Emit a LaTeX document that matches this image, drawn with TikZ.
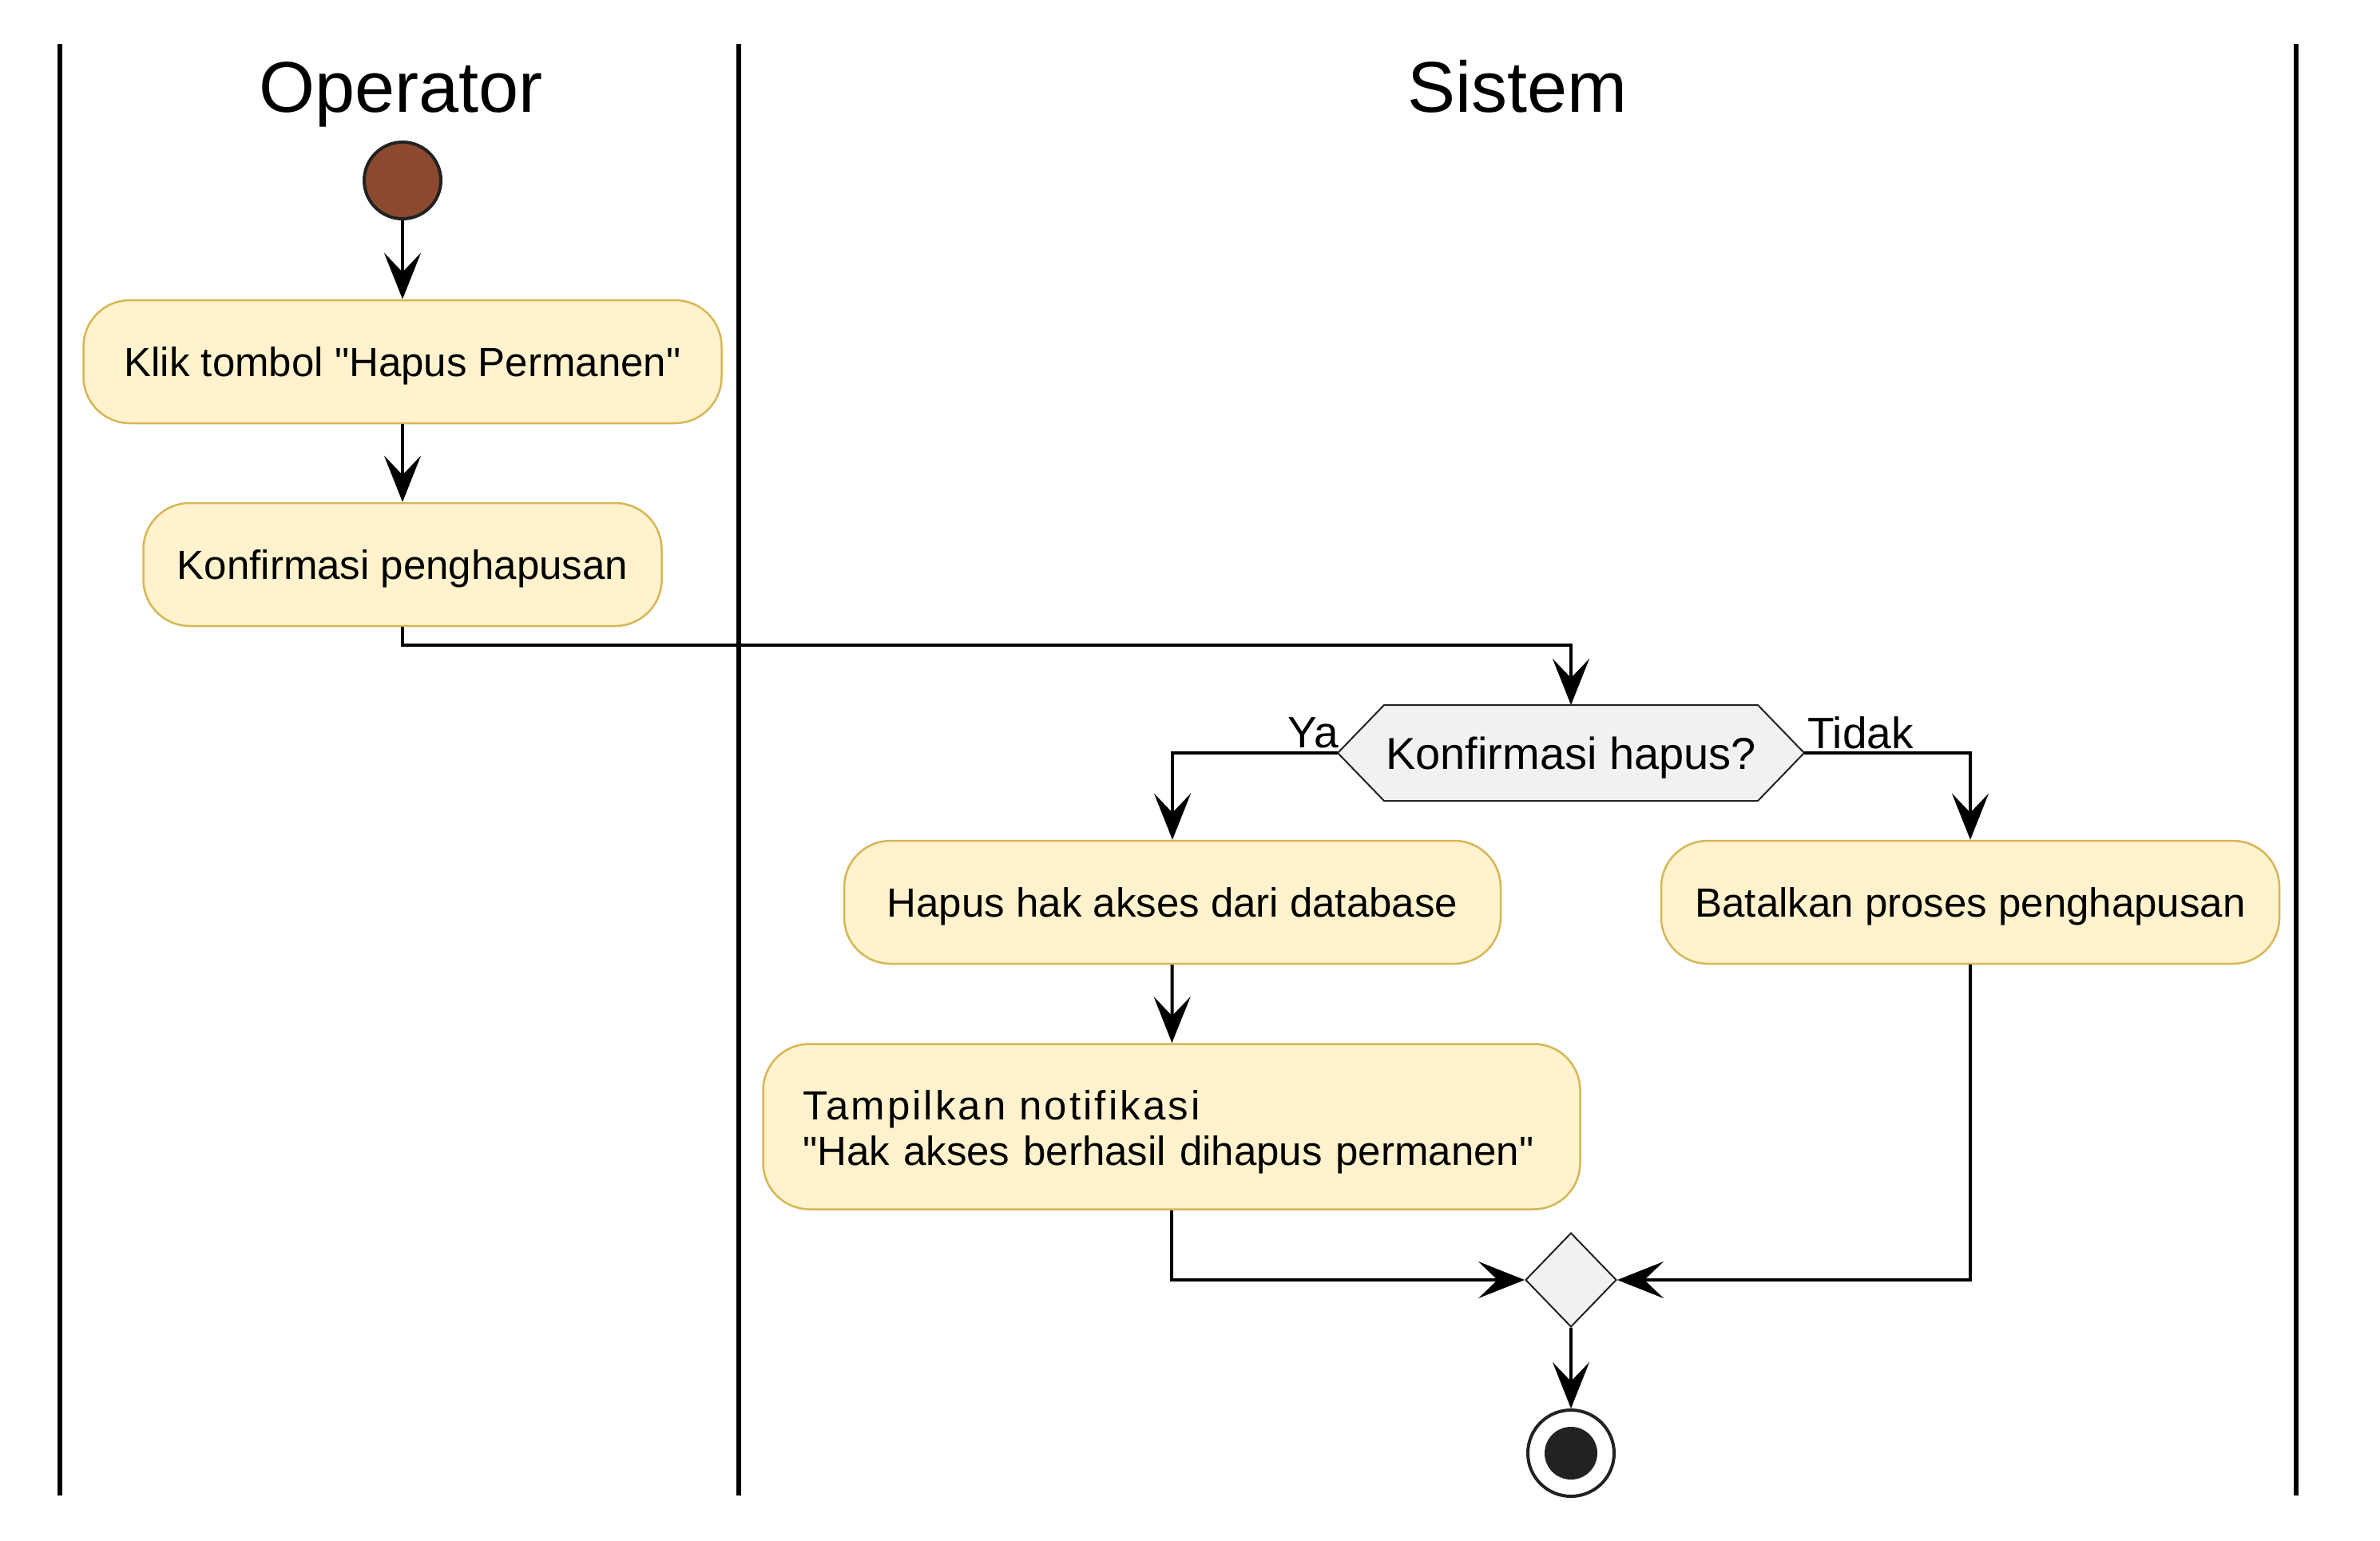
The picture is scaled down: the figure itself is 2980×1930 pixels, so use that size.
\documentclass[tikz,border=0pt]{standalone}
\usepackage{fontspec}
\setmainfont{Liberation Sans}[Ligatures=TeXOff]
\usetikzlibrary{arrows.meta,shapes.geometric,calc}
\definecolor{actfill}{HTML}{FFF2CC}
\definecolor{actdraw}{HTML}{D6B656}
\definecolor{decfill}{HTML}{F1F1F1}
\definecolor{startfill}{RGB}{139,74,47}
\definecolor{ink}{HTML}{222222}
\begin{document}
\begin{tikzpicture}[x=1pt,y=-1pt,
  act/.style={rectangle, rounded corners=58pt, fill=actfill, draw=actdraw, line width=2.5pt,
    minimum height=154pt, inner sep=0pt, text=black, text depth=0pt, font=\fontsize{51}{57}\selectfont},
  lane/.style={line width=6pt, black},
  title/.style={anchor=base, font=\fontsize{90}{100}\selectfont},
  flow/.style={line width=4pt, black, -{Stealth[length=58pt,width=46pt,inset=24pt]}},
  lbl/.style={font=\fontsize{55}{60}\selectfont, inner sep=0pt},
  decbox/.style={draw=ink, fill=decfill, line width=2pt, line join=miter},
]
\useasboundingbox (0,0) rectangle (2980,1930);
\fill[white] (0,0) rectangle (2980,1930);

% swimlanes
\draw[lane] (75,55) -- (75,1873);
\draw[lane] (925,55) -- (925,1873);
\draw[lane] (2875,55) -- (2875,1873);
\node[title] (tOp) at (502,140) {Operator};
\node[title] (tSys) at (1900,140) {Sistem};

% start
\node[circle, draw=ink, fill=startfill, line width=4pt, minimum size=96pt, inner sep=0pt] (start) at (504,226) {};

% actions (Operator)
\node[act, minimum width=799pt] (a1) at (504,453) {Klik tombol "Hapus Permanen"};
\node[act, minimum width=649pt] (a2) at (504,707) {Konfirmasi penghapusan};

% decision
\coordinate (dc) at (1967,943);
\draw[decbox] ($(dc)+(-292,0)$) -- ($(dc)+(-234,-60)$) -- ($(dc)+(234,-60)$) -- ($(dc)+(292,0)$)
  -- ($(dc)+(234,60)$) -- ($(dc)+(-234,60)$) -- cycle;
\node[rectangle, minimum width=584pt, minimum height=120pt, inner sep=0pt, outer sep=0pt,
  text depth=0pt, font=\fontsize{56}{60}\selectfont] (dec) at (dc) {Konfirmasi hapus?};

% actions (Sistem)
\node[act, minimum width=822pt] (a3) at (1468,1130) {Hapus hak akses dari database};
\node[act, minimum width=774pt] (a4) at (2467,1130) {Batalkan proses penghapusan};
\node[act, minimum width=1023pt, minimum height=207pt, align=left, text width=923pt, text depth=54pt]
  (a5) at (1467,1411) {{\addfontfeatures{LetterSpace=6}Tampilkan notifikasi}\\"Hak akses berhasil dihapus permanen"};

% merge and end
\node[diamond, draw=ink, fill=decfill, line width=2pt, minimum width=114pt, minimum height=118pt, inner sep=0pt] (mrg) at (1967,1603) {};
\node[circle, draw=ink, fill=white, line width=4pt, minimum size=108pt, inner sep=0pt] (fin) at (1967,1820) {};
\node[circle, fill=ink, minimum size=66pt, inner sep=0pt] (findot) at (fin) {};

% connectors
\coordinate (j1) at (1967,808);
\draw[flow] (start) -- (a1);
\draw[flow] (a1) -- (a2);
\draw[flow] (a2.south) |- (j1) -- (dec.north);
\draw[flow] (dec.west) -| (a3.north);
\draw[flow] (dec.east) -| (a4.north);
\draw[flow] (a3) -- (a5);
\draw[flow] (a5.south) |- (mrg.west);
\draw[flow] (a4.south) |- (mrg.east);
\draw[flow] (mrg) -- (fin);

% branch labels
\node[lbl, anchor=base east] (lYa) at (1676,936) {Ya};
\node[lbl, anchor=base west] (lTidak) at (2263,937) {Tidak};
\end{tikzpicture}
\end{document}
